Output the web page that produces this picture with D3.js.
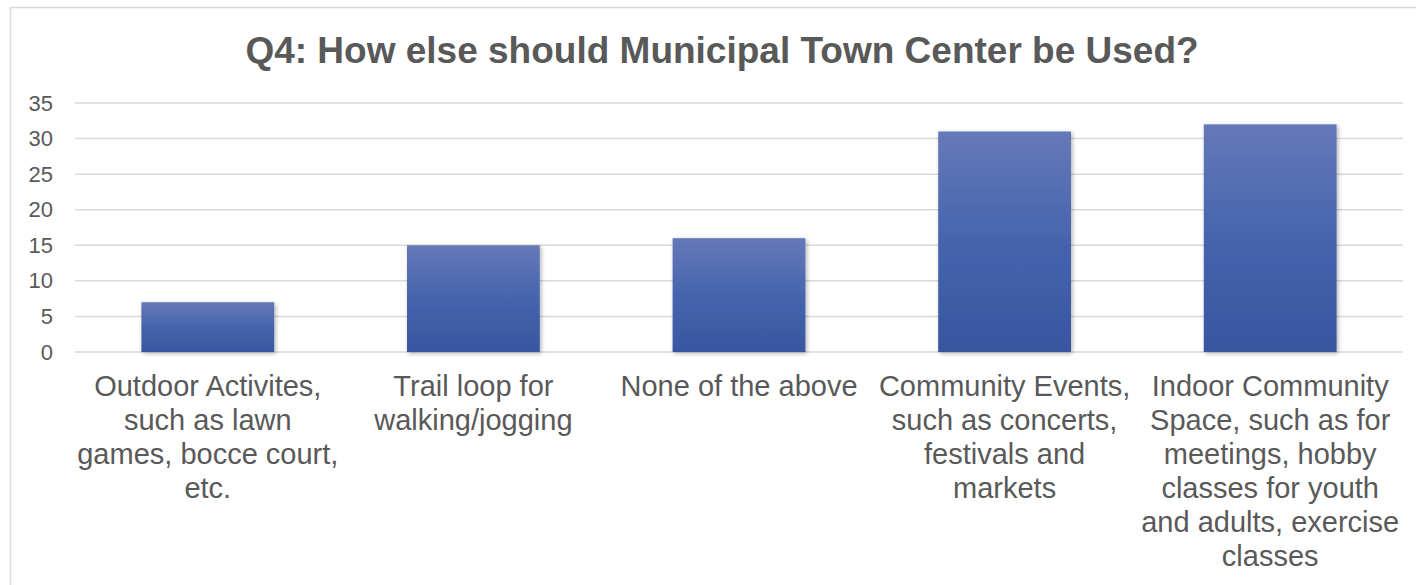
<!DOCTYPE html>
<html>
<head>
<meta charset="utf-8">
<script src="https://cdn.jsdelivr.net/npm/d3@7"></script>
<style>
  body { margin: 0; background: #fff; }
  svg { display: block; font-family: "Liberation Sans", Arial, sans-serif; }
</style>
</head>
<body>
<div class="graph"></div>
<script>
// chart data
var title = "Q4: How else should Municipal Town Center be Used?"
var categories = [
  ["Outdoor Activites,", "such as lawn", "games, bocce court,", "etc."],
  ["Trail loop for", "walking/jogging"],
  ["None of the above"],
  ["Community Events,", "such as concerts,", "festivals and", "markets"],
  ["Indoor Community", "Space, such as for", "meetings, hobby", "classes for youth", "and adults, exercise", "classes"]
]
var values = [7, 15, 16, 31, 32]
var yTicks = [0, 5, 10, 15, 20, 25, 30, 35]

var w = 1416
var h = 585
var margin = {left: 75, right: 13, top: 103, bottom: 233}

var svg = d3.select(".graph")
  .append("svg")
  .attr("width", w)
  .attr("height", h)

var defs = svg.append("defs")
var grad = defs.append("linearGradient")
  .attr("id", "barGrad")
  .attr("x1", 0).attr("y1", 0).attr("x2", 0).attr("y2", 1)
grad.append("stop").attr("offset", "0%").attr("stop-color", "#6679b8")
grad.append("stop").attr("offset", "50%").attr("stop-color", "#4664ae")
grad.append("stop").attr("offset", "100%").attr("stop-color", "#3955a0")

var shadow = defs.append("filter")
  .attr("id", "shadow")
  .attr("x", "-10%").attr("y", "-10%").attr("width", "120%").attr("height", "120%")
shadow.append("feDropShadow")
  .attr("dx", 1.5).attr("dy", 1.5).attr("stdDeviation", 2)
  .attr("flood-color", "#000").attr("flood-opacity", 0.3)

// chart area border
svg.append("rect")
  .attr("x", 10.5).attr("y", 7.5)
  .attr("width", 1440).attr("height", 600)
  .attr("fill", "none")
  .attr("stroke", "#d9d9d9")
  .attr("stroke-width", 1.5)

svg.append("text")
  .attr("x", 722)
  .attr("y", 63)
  .attr("text-anchor", "middle")
  .attr("font-size", "37px")
  .attr("font-weight", "bold")
  .attr("fill", "#595959")
  .text(title)

var x = d3.scaleBand()
  .domain(d3.range(values.length))
  .range([margin.left, w - margin.right])
  .paddingInner(0.5)
  .paddingOuter(0.25)

var y = d3.scaleLinear()
  .domain([0, 35])
  .range([h - margin.bottom, margin.top])

// gridlines
svg.append("g")
  .selectAll("line")
  .data(yTicks)
  .enter()
  .append("line")
  .attr("x1", margin.left)
  .attr("x2", w - margin.right)
  .attr("y1", function(d){ return y(d) })
  .attr("y2", function(d){ return y(d) })
  .attr("stroke", "#d9d9d9")
  .attr("stroke-width", 1.5)

// y axis labels
var yAxis = d3.axisLeft(y)
  .tickValues(yTicks)
  .tickSize(0)
  .tickPadding(22)
var gy = svg.append("g")
  .attr("transform", "translate(" + margin.left + ",0)")
  .call(yAxis)
gy.select(".domain").remove()
gy.selectAll("text")
  .attr("font-size", "22px")
  .attr("font-family", "Liberation Sans, Arial, sans-serif")
  .attr("fill", "#595959")

// bars
svg.append("g")
  .selectAll("rect")
  .data(values)
  .enter()
  .append("rect")
  .attr("x", function(d, i){ return x(i) })
  .attr("y", function(d){ return y(d) })
  .attr("width", x.bandwidth())
  .attr("height", function(d){ return y(0) - y(d) })
  .attr("fill", "url(#barGrad)")
  .attr("filter", "url(#shadow)")

// category labels
var lineH = 34
var labels = svg.append("g")
  .selectAll("text")
  .data(categories)
  .enter()
  .append("text")
  .attr("text-anchor", "middle")
  .attr("font-size", "29px")
  .attr("fill", "#595959")
  .attr("transform", function(d, i){
    return "translate(" + (x(i) + x.bandwidth() / 2) + "," + (y(0) + 44) + ")"
  })

labels.selectAll("tspan")
  .data(function(d){ return d })
  .enter()
  .append("tspan")
  .attr("x", 0)
  .attr("y", function(d, i){ return i * lineH })
  .text(function(d){ return d })
</script>
</body>
</html>
